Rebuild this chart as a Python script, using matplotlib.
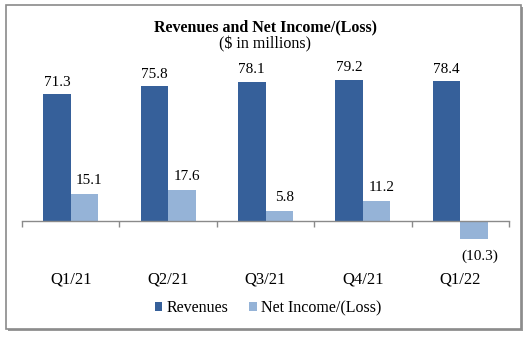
import matplotlib
matplotlib.use("Agg")
import matplotlib.pyplot as plt
from matplotlib.patches import Rectangle, Patch
import numpy as np

categories = ["Q1/21", "Q2/21", "Q3/21", "Q4/21", "Q1/22"]
revenues = [71.3, 75.8, 78.1, 79.2, 78.4]
net_income = [15.1, 17.6, 5.8, 11.2, -10.3]

plt.rcParams['font.family'] = ['Liberation Serif', 'DejaVu Serif']

W, H = 530, 337
fig = plt.figure(figsize=(W / 100, H / 100), dpi=100)
fig.patch.set_facecolor('white')

# frame with shadow
def px(x0, y0, x1, y1):
    return (x0 / W, 1 - y1 / H, (x1 - x0) / W, (y1 - y0) / H)

sx, sy, sw, sh = px(8, 7, 523, 331)
fig.patches.append(Rectangle((sx, sy), sw, sh, transform=fig.transFigure,
                             facecolor='#9a9a9a', edgecolor='none', zorder=-2))
fx, fy, fw, fh = px(6, 5, 521, 329)
fig.patches.append(Rectangle((fx, fy), fw, fh, transform=fig.transFigure,
                             facecolor='white', edgecolor='#8a8a8a', linewidth=1.2, zorder=-1))

# axes placement: baseline at y=221 px from top, 1.78 px per unit
ymin, ymax = -20, 85
scale = 1.78
base_from_bottom = H - 221
ax_bottom = base_from_bottom + ymin * scale
ax_height = (ymax - ymin) * scale
ax_left, ax_right = 22, 509
ax = fig.add_axes([ax_left / W, ax_bottom / H, (ax_right - ax_left) / W, ax_height / H])
ax.set_zorder(2)
ax.set_facecolor('none')
ax.set_xlim(-0.5, len(categories) - 0.5)
ax.set_ylim(ymin, ymax)

x = np.arange(len(categories))
bw = 0.282
dark = '#36609A'
light = '#95B3D7'
ax.bar(x - bw / 2, revenues, bw, color=dark, zorder=2)
ax.bar(x + bw / 2, net_income, bw, color=light, zorder=2)

for i, v in enumerate(revenues):
    ax.annotate(f"{v:.1f}", (x[i] - bw / 2, v), xytext=(0, 4), textcoords='offset points',
                ha='center', va='bottom', fontsize=11)
for i, v in enumerate(net_income):
    if v >= 0:
        ax.annotate(f"{v:.1f}", (x[i] + bw / 2, v), xytext=(3.5, 5), textcoords='offset points',
                    ha='center', va='bottom', fontsize=11)
    else:
        ax.annotate(f"({abs(v):.1f})", (x[i] + bw / 2, v), xytext=(4.5, -7), textcoords='offset points',
                    ha='center', va='top', fontsize=11)

for s in ['top', 'right', 'left']:
    ax.spines[s].set_visible(False)
ax.spines['bottom'].set_position(('data', 0))
ax.spines['bottom'].set_color('#8a8a8a')
ax.spines['bottom'].set_linewidth(1.0)
ax.set_yticks([])
ax.set_xticks(np.arange(-0.5, len(categories)), minor=True)
ax.tick_params(axis='x', which='minor', length=4, color='#8a8a8a', width=1.0, direction='out')
ax.set_xticks(x, labels=categories)
ax.tick_params(axis='x', which='major', length=0, pad=36, labelsize=12)

fig.text(0.5, 1 - 27 / H, "Revenues and Net Income/(Loss)", ha='center', va='center',
         fontsize=11.5, fontweight='bold')
fig.text(0.5, 1 - 44 / H, "($ in millions)", ha='center', va='center', fontsize=11.5)

handles = [Patch(facecolor=dark, edgecolor='none', label='Revenues'),
           Patch(facecolor=light, edgecolor='none', label='Net Income/(Loss)')]
fig.legend(handles=handles, loc='center', bbox_to_anchor=(268 / W, 1 - 308 / H), ncol=2,
           frameon=False, fontsize=11.5, handlelength=0.5, handleheight=0.5,
           handletextpad=0.25, columnspacing=1.3, borderpad=0)

fig.savefig("out.png", dpi=100, facecolor='white')
